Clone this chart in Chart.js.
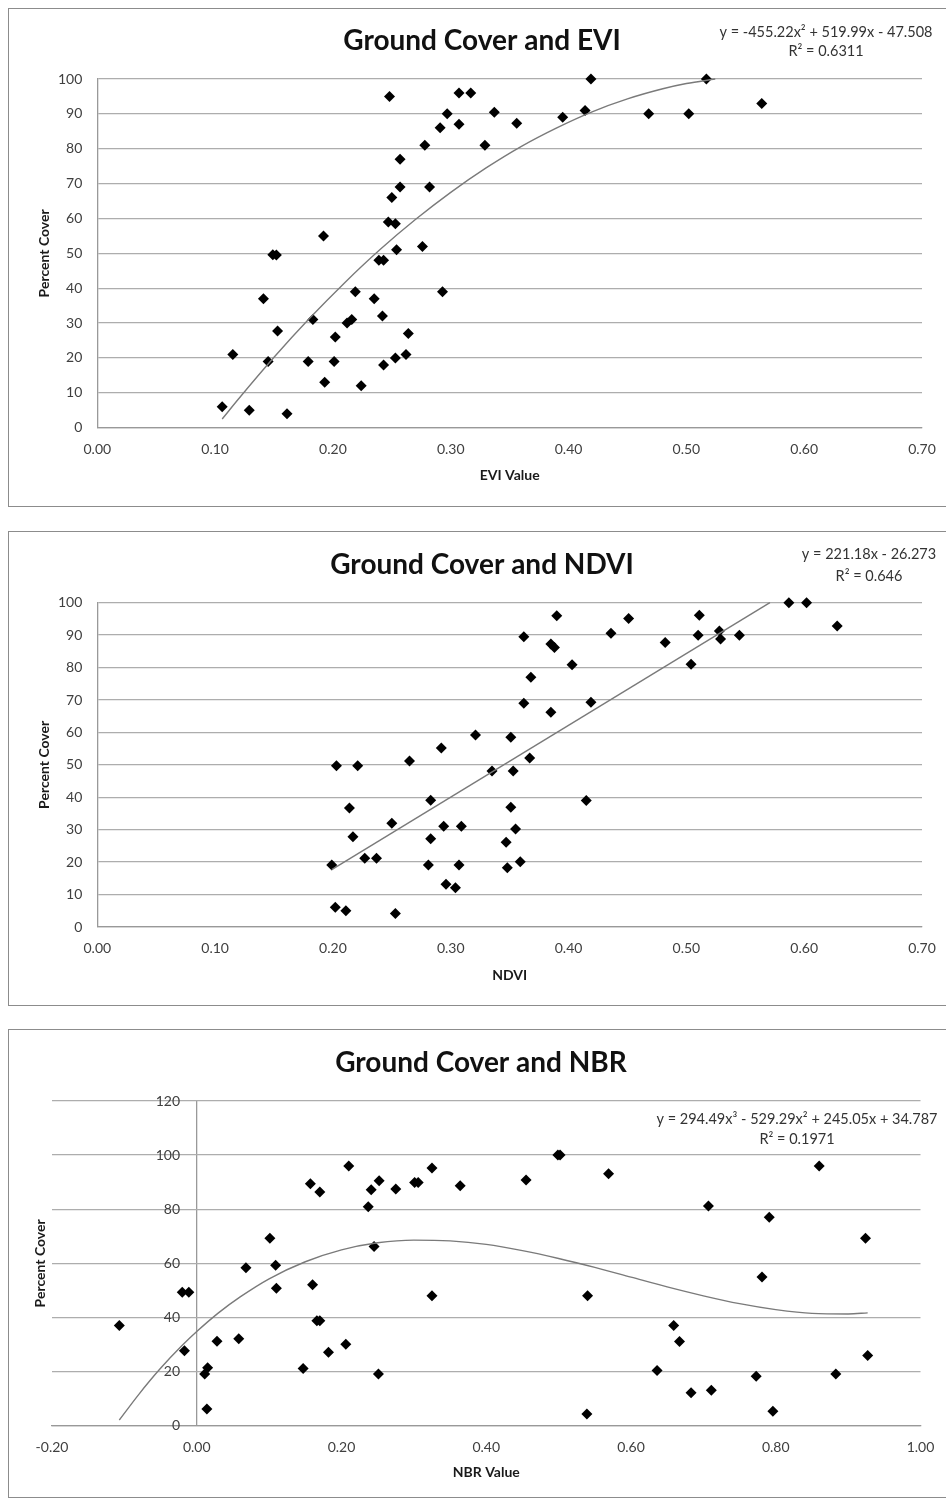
<!DOCTYPE html>
<html>
<head>
<meta charset="utf-8">
<title>Ground Cover and EVI / NDVI / NBR</title>
<script src="https://cdn.jsdelivr.net/npm/chart.js@4.4.0/dist/chart.umd.min.js"></script>
<style>
  html, body { margin: 0; padding: 0; background: #fff; overflow: hidden; }
  body { width: 946px; height: 1501px; position: relative; }
  .frame { position: absolute; left: 8px; width: 960px; border: 1.5px solid #8c8c8c; box-sizing: border-box; }
  canvas { position: absolute; left: 0; }
</style>
</head>
<body>
<div class="frame" style="top:8px;height:499px"></div>
<div class="frame" style="top:531px;height:475px"></div>
<div class="frame" style="top:1029px;height:469px"></div>
<canvas id="eviChart" width="946" height="510" style="top:0"></canvas>
<canvas id="ndviChart" width="946" height="490" style="top:520px"></canvas>
<canvas id="nbrChart" width="946" height="485" style="top:1015px"></canvas>
<script>
// --- EVI panel data ---
const eviValues = [0.248, 0.307, 0.317, 0.297, 0.291, 0.307, 0.278, 0.257, 0.257, 0.282,
    0.250, 0.247, 0.253, 0.192, 0.276, 0.254, 0.149, 0.152, 0.239, 0.243,
    0.219, 0.293, 0.141, 0.235, 0.242, 0.183, 0.216, 0.212, 0.153, 0.264,
    0.202, 0.115, 0.145, 0.179, 0.201, 0.253, 0.262, 0.243, 0.193, 0.224,
    0.106, 0.129, 0.161, 0.329, 0.337, 0.356, 0.395, 0.414, 0.419, 0.468,
    0.502, 0.517, 0.564];
const eviCover = [95, 96, 96, 90, 86, 87, 81, 77, 69, 69,
    66, 59, 58.5, 55, 52, 51, 49.6, 49.5, 48, 48,
    39, 39, 37, 37, 32, 31, 31, 30, 27.7, 27,
    26, 21, 19, 19, 19, 20, 21, 18, 13, 12,
    6, 5, 4, 81, 90.5, 87.3, 89, 91, 100, 90,
    90, 100, 93];
const eviTrendX = [0.106, 0.12, 0.15, 0.18, 0.21, 0.24, 0.27, 0.30, 0.33, 0.36, 0.39, 0.42, 0.45, 0.48, 0.50, 0.5245];
const eviTrendY = [2.5, 8.3, 20.2, 31.3, 41.6, 51.1, 59.7, 67.5, 74.5, 80.7, 86.0, 90.6, 94.3, 97.2, 98.7, 100.0];
const eviXTicks = [0, 0.1, 0.2, 0.3, 0.4, 0.5, 0.6, 0.7];
const eviYTicks = [0, 10, 20, 30, 40, 50, 60, 70, 80, 90, 100];
const eviEquation = ["y = -455.22x\u00b2 + 519.99x - 47.508", "R\u00b2 = 0.6311"];

// --- NDVI panel data ---
const ndviValues = [0.390, 0.362, 0.385, 0.388, 0.403, 0.368, 0.362, 0.385, 0.321, 0.351,
    0.203, 0.221, 0.265, 0.292, 0.367, 0.335, 0.353, 0.214, 0.351, 0.250,
    0.283, 0.294, 0.309, 0.217, 0.283, 0.355, 0.347, 0.227, 0.237, 0.199,
    0.281, 0.307, 0.348, 0.359, 0.296, 0.304, 0.202, 0.211, 0.253, 0.415,
    0.587, 0.602, 0.628, 0.511, 0.510, 0.528, 0.529, 0.545, 0.504, 0.482,
    0.451, 0.436, 0.419];
const ndviCover = [96, 89.5, 87.3, 86.2, 80.9, 77, 69, 66.2, 59.2, 58.5,
    49.7, 49.7, 51.2, 55.2, 52.1, 48.1, 48.1, 36.7, 36.9, 32,
    39.1, 31.1, 31.1, 27.8, 27.2, 30.2, 26.1, 21.2, 21.2, 19.1,
    19.1, 19.1, 18.3, 20.1, 13.2, 12.1, 6.1, 5.0, 4.2, 39,
    100, 100, 92.8, 96.1, 90, 91.3, 88.8, 90, 81, 87.7,
    95.1, 90.6, 69.3];
const ndviTrendX = [0.199, 0.5709];
const ndviTrendY = [17.7, 100.0];
const ndviXTicks = [0, 0.1, 0.2, 0.3, 0.4, 0.5, 0.6, 0.7];
const ndviYTicks = [0, 10, 20, 30, 40, 50, 60, 70, 80, 90, 100];
const ndviEquation = ["y = 221.18x - 26.273", "R\u00b2 = 0.646"];

// --- NBR panel data ---
const nbrValues = [-0.107, -0.020, -0.011, -0.017, 0.011, 0.015, 0.014, 0.028, 0.058, 0.068,
    0.101, 0.109, 0.110, 0.147, 0.157, 0.170, 0.160, 0.166, 0.170, 0.182,
    0.206, 0.210, 0.237, 0.241, 0.252, 0.245, 0.251, 0.275, 0.301, 0.306,
    0.325, 0.364, 0.455, 0.499, 0.502, 0.569, 0.707, 0.791, 0.781, 0.325,
    0.540, 0.659, 0.667, 0.636, 0.773, 0.683, 0.711, 0.539, 0.796, 0.860,
    0.924, 0.927, 0.883];
const nbrCover = [37, 49.3, 49.3, 27.7, 19.1, 21.4, 6.2, 31.2, 32.1, 58.4,
    69.3, 59.3, 50.8, 21.1, 89.4, 86.4, 52.1, 38.8, 38.8, 27.1,
    30.1, 96, 80.9, 87.2, 90.5, 66.2, 19.1, 87.5, 89.9, 89.9,
    95.2, 88.7, 90.8, 100, 100, 93.1, 81.2, 77, 55, 48,
    48, 37, 31.1, 20.4, 18.3, 12.2, 13.1, 4.3, 5.3, 96,
    69.3, 25.9, 19.1];
const nbrTrendX = [-0.107, -0.08, -0.05, -0.02, 0, 0.03, 0.06, 0.10, 0.15, 0.20, 0.25, 0.30, 0.35,
    0.40, 0.45, 0.50, 0.55, 0.60, 0.65, 0.70, 0.75, 0.80, 0.85, 0.90, 0.927];
const nbrTrendY = [2.1, 11.6, 21.2, 29.7, 34.8, 41.7, 47.6, 54.3, 60.6, 65.0, 67.6, 68.6, 68.3,
    67.0, 64.7, 61.8, 58.5, 54.9, 51.3, 48.0, 45.1, 42.9, 41.5, 41.3, 41.7];
const nbrXTicks = [-0.2, 0, 0.2, 0.4, 0.6, 0.8, 1.0];
const nbrYTicks = [0, 20, 40, 60, 80, 100, 120];
const nbrEquation = ["y = 294.49x\u00b3 - 529.29x\u00b2 + 245.05x + 34.787", "R\u00b2 = 0.1971"];

const fontFamily = "Lato, 'Open Sans', sans-serif";
const gridGray = "#adadad";
const axisGray = "#999999";
const tickColor = "#404040";
const titleColor = "#1a1a1a";

Chart.defaults.font.family = fontFamily;

function xyPoints(xs, ys) {
    return xs.map((x, i) => ({ x: x, y: ys[i] }));
}

// widest y tick label, needed to right-align the mirrored NBR labels
function widestLabel(values) {
    const c = document.createElement("canvas").getContext("2d");
    c.font = "14px " + fontFamily;
    return Math.max(...values.map(v => c.measureText(String(v)).width));
}

// two-line trendline equation, drawn like Excel's trendline label
const trendLabel = {
    id: "trendLabel",
    afterDraw(chart, args, opts) {
        const ctx = chart.ctx;
        ctx.save();
        ctx.font = "14.5px " + fontFamily;
        ctx.fillStyle = "#333333";
        ctx.textAlign = "center";
        ctx.textBaseline = "middle";
        opts.lines.forEach((line, i) => ctx.fillText(line, opts.x, opts.y[i]));
        ctx.restore();
    }
};

function makeChart(id, g) {
    return new Chart(document.getElementById(id), {
        type: "scatter",
        data: {
            datasets: [
                {
                    data: xyPoints(g.trendX, g.trendY),
                    showLine: true,
                    pointRadius: 0,
                    borderColor: "#7a7a7a",
                    borderWidth: 1.4,
                    cubicInterpolationMode: "monotone",
                    clip: false
                },
                {
                    data: xyPoints(g.xs, g.ys),
                    pointStyle: "rectRot",
                    pointRadius: 5.5,
                    backgroundColor: "#000000",
                    borderWidth: 0,
                    clip: false
                }
            ]
        },
        options: {
            responsive: false,
            animation: false,
            events: [],
            layout: { padding: { left: g.padLeft, right: g.padRight, top: 0, bottom: 0 } },
            plugins: {
                legend: { display: false },
                tooltip: { enabled: false },
                title: {
                    display: true,
                    text: g.title,
                    color: "#111111",
                    font: { size: 28, weight: "bold", lineHeight: 1.2 },
                    padding: g.titlePad
                },
                trendLabel: { lines: g.equation, x: g.eqX, y: g.eqY }
            },
            scales: {
                x: {
                    type: "linear",
                    min: g.xTicks[0],
                    max: g.xTicks[g.xTicks.length - 1],
                    afterBuildTicks: s => { s.ticks = g.xTicks.map(v => ({ value: v })); },
                    afterFit: s => { s.height = g.xHeight; s.paddingLeft = 0; s.paddingRight = 0; },
                    grid: {
                        display: g.zeroLine,
                        drawTicks: false,
                        lineWidth: 1.3,
                        color: c => (c.tick && Math.abs(c.tick.value) < 1e-9) ? axisGray : "rgba(0,0,0,0)"
                    },
                    border: { display: true, color: axisGray, width: 1.3 },
                    ticks: {
                        padding: 13,
                        color: tickColor,
                        font: { size: 14 },
                        callback: v => v.toFixed(2)
                    },
                    title: {
                        display: true,
                        text: g.xTitle,
                        color: titleColor,
                        font: { size: 14, weight: "bold", lineHeight: 1.2 },
                        padding: { top: 0, bottom: g.xTitlePad }
                    }
                },
                y: {
                    type: "linear",
                    min: g.yTicks[0],
                    max: g.yTicks[g.yTicks.length - 1],
                    afterBuildTicks: s => { s.ticks = g.yTicks.map(v => ({ value: v })); },
                    afterFit: s => { s.width = g.yWidth; s.paddingTop = 0; s.paddingBottom = 0; },
                    grid: { color: gridGray, lineWidth: 1.3, drawTicks: false },
                    border: { display: g.yBorder, color: axisGray, width: 1.3 },
                    ticks: {
                        padding: g.yTickPad,
                        mirror: g.mirror,
                        crossAlign: g.mirror ? "far" : "near",
                        color: tickColor,
                        font: { size: 14 }
                    },
                    title: {
                        display: true,
                        text: "Percent Cover",
                        color: titleColor,
                        font: { size: 14, weight: "bold", lineHeight: 1.2 },
                        padding: { top: g.yTitlePad, bottom: 0 }
                    }
                }
            }
        },
        plugins: [trendLabel]
    });
}

makeChart("eviChart", {
    title: "Ground Cover and EVI", xTitle: "EVI Value",
    xs: eviValues, ys: eviCover, trendX: eviTrendX, trendY: eviTrendY,
    xTicks: eviXTicks, yTicks: eviYTicks,
    equation: eviEquation, eqX: 826, eqY: [32, 51],
    padLeft: 42, padRight: 24, yWidth: 55.3, xHeight: 82.3,
    titlePad: { top: 24.2, bottom: 21.2 }, xTitlePad: 26.6, yTitlePad: -6.4,
    yTickPad: 15, mirror: false, yBorder: true, zeroLine: false
});

makeChart("ndviChart", {
    title: "Ground Cover and NDVI", xTitle: "NDVI",
    xs: ndviValues, ys: ndviCover, trendX: ndviTrendX, trendY: ndviTrendY,
    xTicks: ndviXTicks, yTicks: ndviYTicks,
    equation: ndviEquation, eqX: 869, eqY: [34, 56],
    padLeft: 42, padRight: 24, yWidth: 55.3, xHeight: 83,
    titlePad: { top: 28.2, bottom: 20.9 }, xTitlePad: 26.6, yTitlePad: -6.4,
    yTickPad: 15, mirror: false, yBorder: true, zeroLine: false
});

// NBR: y axis labels sit next to x = 0, the only vertical grid line
makeChart("nbrChart", {
    title: "Ground Cover and NBR", xTitle: "NBR Value",
    xs: nbrValues, ys: nbrCover, trendX: nbrTrendX, trendY: nbrTrendY,
    xTicks: nbrXTicks, yTicks: nbrYTicks,
    equation: nbrEquation, eqX: 797, eqY: [104, 124],
    padLeft: 41.5, padRight: 25.5, yWidth: 10.5, xHeight: 74.3,
    titlePad: { top: 31.2, bottom: 21.2 }, xTitlePad: 19.6, yTitlePad: -9.9,
    yTickPad: 128 - widestLabel(nbrYTicks), mirror: true, yBorder: false, zeroLine: true
});
</script>
</body>
</html>
